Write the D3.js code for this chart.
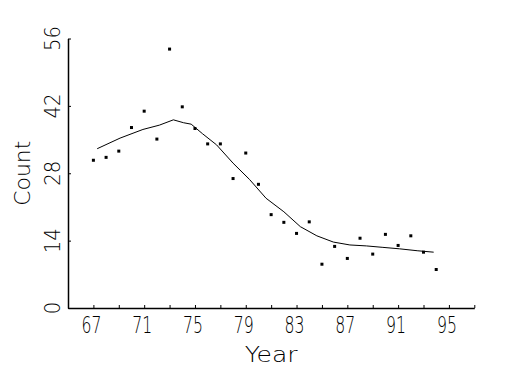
<!DOCTYPE html>
<html>
<head>
<meta charset="utf-8">
<script src="https://cdn.jsdelivr.net/npm/d3@7"></script>
<style>
  body { margin: 0; background: #fff; }
  svg text { font-family: "DejaVu Sans", sans-serif; font-weight: 200; fill: #000; }
</style>
</head>
<body>
<svg id="chart" width="525" height="375"></svg>
<script>
// observed counts per year
var years = [67, 68, 69, 70, 71, 72, 73, 74, 75, 76, 77, 78, 79, 80,
             81, 82, 83, 84, 85, 86, 87, 88, 89, 90, 91, 92, 93, 94];
var counts = [30.7, 31.3, 32.6, 37.5, 40.9, 35.1, 53.8, 41.8, 37.3, 34.1, 34.1, 26.9, 32.2, 25.7,
              19.4, 17.8, 15.5, 17.9, 9.1, 12.8, 10.3, 14.5, 11.2, 15.3, 13.0, 15.0, 11.6, 8.0];

// smoothed fit
var fitYears = [67.3, 69.1, 70.9, 72.2, 73.3, 74.1, 74.7, 75.6, 76.7, 78.0, 79.3,
                80.6, 82.0, 83.3, 84.6, 85.9, 87.2, 88.5, 89.8, 91.1, 92.5, 93.8];
var fitValues = [33.1, 35.3, 37.1, 38.0, 39.1, 38.5, 38.2, 36.2, 33.9, 30.1, 26.7,
                 22.8, 20.0, 16.9, 15.0, 13.7, 13.1, 12.9, 12.6, 12.3, 11.9, 11.6];

var xTicks = [67, 69, 71, 73, 75, 77, 79, 81, 83, 85, 87, 89, 91, 93, 95, 97];
var xLabels = [67, 71, 75, 79, 83, 87, 91, 95];
var yTicks = [0, 14, 28, 42, 56];

var svg = d3.select("#chart");

var x = d3.scaleLinear().domain([65, 97]).range([68, 474.3]);
var y = d3.scaleLinear().domain([0, 56]).range([308, 38.5]);

// axes, ticks pointing inward
var xAxis = svg.append("g")
    .attr("transform", "translate(0,308)")
    .call(d3.axisBottom(x).tickValues(xTicks).tickSize(-3).tickSizeOuter(0).tickFormat(""));
var yAxis = svg.append("g")
    .attr("transform", "translate(68,0)")
    .call(d3.axisLeft(y).tickValues(yTicks).tickSize(-3).tickSizeOuter(0).tickFormat(""));
xAxis.select(".domain").attr("stroke-width", 1.5);
yAxis.select(".domain").attr("stroke-width", 1.5);
svg.selectAll(".tick line").attr("stroke-width", 1);

// tick labels
svg.append("g").selectAll("text")
  .data(xLabels)
  .enter().append("text")
    .attr("x", function (d) { return x(d) - 2; })
    .attr("y", 333)
    .attr("text-anchor", "middle")
    .attr("font-size", 23)
    .attr("textLength", 20)
    .attr("lengthAdjust", "spacingAndGlyphs")
    .text(function (d) { return d; });

svg.append("g").selectAll("text")
  .data(yTicks)
  .enter().append("text")
    .attr("transform", function (d) { return "translate(60," + y(d) + ") rotate(-90)"; })
    .attr("text-anchor", "middle")
    .attr("font-size", 21)
    .attr("textLength", function (d) { return String(d).length * 12.5; })
    .attr("lengthAdjust", "spacingAndGlyphs")
    .text(function (d) { return d; });

// axis titles
svg.append("text")
    .attr("x", (x.range()[0] + x.range()[1]) / 2)
    .attr("y", 362)
    .attr("text-anchor", "middle")
    .attr("font-size", 21)
    .attr("textLength", 53)
    .attr("lengthAdjust", "spacingAndGlyphs")
    .text("Year");

svg.append("text")
    .attr("transform", "translate(30," + (y.range()[0] + y.range()[1]) / 2 + ") rotate(-90)")
    .attr("text-anchor", "middle")
    .attr("font-size", 21)
    .attr("textLength", 65)
    .attr("lengthAdjust", "spacingAndGlyphs")
    .text("Count");

// fitted line
var line = d3.line()
    .x(function (d, i) { return x(fitYears[i]); })
    .y(function (d) { return y(d); });
svg.append("path")
    .datum(fitValues)
    .attr("fill", "none")
    .attr("stroke", "#000")
    .attr("stroke-width", 1)
    .attr("d", line);

// points
svg.append("g").selectAll("rect")
  .data(counts)
  .enter().append("rect")
    .attr("x", function (d, i) { return x(years[i]) - 1.5; })
    .attr("y", function (d) { return y(d) - 1.5; })
    .attr("width", 3)
    .attr("height", 3)
    .attr("fill", "#000");
</script>
</body>
</html>
